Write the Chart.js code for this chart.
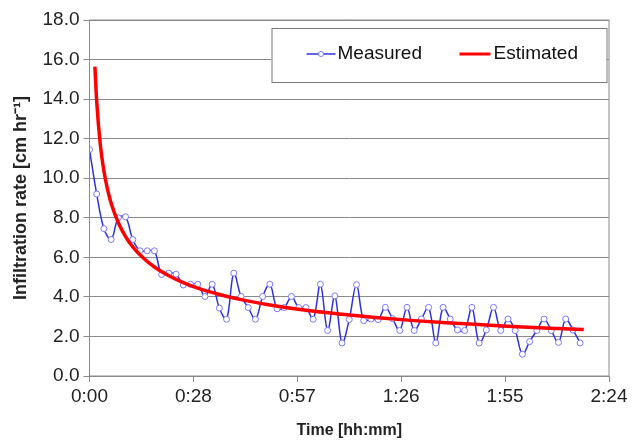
<!DOCTYPE html>
<html>
<head>
<meta charset="utf-8">
<script src="https://cdn.jsdelivr.net/npm/chart.js@4/dist/chart.umd.min.js"></script>
<style>
  html, body { margin: 0; padding: 0; background: #fff; }
  #wrap { width: 639px; height: 442px; }
</style>
</head>
<body>
<div id="wrap"><canvas id="infil"></canvas></div>
<script>
// measured infiltration rate, one reading every 2 minutes
const measuredMinutes = [0, 2, 4, 6, 8, 10, 12, 14, 16, 18, 20, 22, 24, 26, 28, 30, 32, 34, 36, 38,
  40, 42, 44, 46, 48, 50, 52, 54, 56, 58, 60, 62, 64, 66, 68, 70, 72, 74, 76, 78,
  80, 82, 84, 86, 88, 90, 92, 94, 96, 98, 100, 102, 104, 106, 108, 110, 112, 114, 116, 118,
  120, 122, 124, 126, 128, 130, 132, 134, 136]
const measuredRate = [11.45, 9.2, 7.45, 6.9, 8.0, 8.05, 6.9, 6.33, 6.33, 6.33, 5.13, 5.2, 5.15, 4.6, 4.64, 4.64, 4.02, 4.64, 3.43, 2.87,
  5.2, 4.02, 3.46, 2.87, 4.02, 4.64, 3.4, 3.46, 4.02, 3.46, 3.46, 2.87, 4.64, 2.3, 4.05, 1.67, 2.86, 4.62, 2.8, 2.88,
  2.85, 3.47, 2.9, 2.3, 3.47, 2.3, 2.88, 3.47, 1.67, 3.47, 2.88, 2.33, 2.3, 3.47, 1.67, 2.33, 3.47, 2.3, 2.88, 2.3,
  1.1, 1.74, 2.3, 2.88, 2.3, 1.7, 2.88, 2.33, 1.67]

// fitted curve
const estimatedMinutes = [1.5, 2, 3, 4, 5, 6, 8, 10, 12, 15, 18, 22, 26, 30, 36, 42, 50, 60, 70, 80, 90, 100, 110, 120, 130, 137]
const estimatedRate = [15.64, 13.87, 11.7, 10.37, 9.44, 8.74, 7.75, 7.05, 6.53, 5.95, 5.51, 5.07, 4.72, 4.44, 4.12, 3.86, 3.59, 3.32, 3.12, 2.95, 2.8, 2.68, 2.58, 2.48, 2.4, 2.35]

const xTickValues = [0, 28.8, 57.6, 86.4, 115.2, 144]
const xTickLabels = ['0:00', '0:28', '0:57', '1:26', '1:55', '2:24']

const gridGrey = '#8a8a8a'
const fontFam = '"Liberation Sans", Arial, sans-serif'

const toPts = (xs, ys) => xs.map((x, i) => ({ x: x, y: ys[i] }))

// box around plot + boxed legend like the excel original
const framePlugin = {
  id: 'frame',
  afterDraw(chart) {
    const ctx = chart.ctx
    const a = chart.chartArea
    ctx.save()
    ctx.strokeStyle = gridGrey
    ctx.lineWidth = 1
    ctx.strokeRect(a.left, a.top, a.right - a.left, a.bottom - a.top)

    const bx = a.left + 182, by = a.top + 8, bw = 335, bh = 54
    ctx.fillStyle = '#fff'
    ctx.fillRect(bx, by, bw, bh)
    ctx.strokeStyle = '#7a7a7a'
    ctx.strokeRect(bx + 0.5, by + 0.5, bw, bh)

    const ds = chart.data.datasets
    const cy = by + 26
    ctx.font = '19px ' + fontFam
    ctx.textBaseline = 'middle'
    ctx.fillStyle = '#111'

    // Measured
    ctx.strokeStyle = ds[0].borderColor
    ctx.lineWidth = 1.5
    ctx.beginPath(); ctx.moveTo(bx + 35, cy); ctx.lineTo(bx + 64, cy); ctx.stroke()
    ctx.beginPath(); ctx.arc(bx + 49.5, cy, 2.5, 0, Math.PI * 2)
    ctx.fillStyle = '#fff'; ctx.fill()
    ctx.strokeStyle = ds[0].pointBorderColor; ctx.lineWidth = 1; ctx.stroke()
    ctx.fillStyle = '#111'
    ctx.fillText(ds[0].label, bx + 66, cy)

    // Estimated
    ctx.strokeStyle = ds[1].borderColor
    ctx.lineWidth = 3
    ctx.beginPath(); ctx.moveTo(bx + 188, cy); ctx.lineTo(bx + 219, cy); ctx.stroke()
    ctx.fillText(ds[1].label, bx + 222, cy)
    ctx.restore()
  }
}

new Chart(document.getElementById('infil'), {
  type: 'line',
  data: {
    datasets: [
      {
        label: 'Measured',
        data: toPts(measuredMinutes, measuredRate),
        borderColor: '#3030dd',
        borderWidth: 1.5,
        pointRadius: 3,
        pointBackgroundColor: '#fff',
        pointBorderColor: '#7878ff',
        pointBorderWidth: 1,
        tension: 0.35,
        order: 2
      },
      {
        label: 'Estimated',
        data: toPts(estimatedMinutes, estimatedRate),
        borderColor: '#ff0000',
        borderWidth: 3.5,
        pointRadius: 0,
        cubicInterpolationMode: 'monotone',
        order: 1
      }
    ]
  },
  options: {
    responsive: true,
    maintainAspectRatio: false,
    animation: false,
    layout: { padding: { left: 0, right: 30, top: 20, bottom: 0 } },
    plugins: {
      legend: { display: false },
      tooltip: { enabled: false }
    },
    scales: {
      x: {
        type: 'linear',
        min: 0,
        max: 144,
        afterBuildTicks: s => { s.ticks = xTickValues.map(v => ({ value: v })) },
        afterFit: s => { s.height = 66 },
        grid: { drawOnChartArea: false, color: gridGrey, tickLength: 6 },
        border: { color: gridGrey },
        ticks: {
          autoSkip: false,
          maxRotation: 0,
          padding: 3,
          color: '#222',
          font: { family: fontFam, size: 19 },
          callback: (v, i) => xTickLabels[i]
        },
        title: {
          display: true,
          text: 'Time [hh:mm]',
          color: '#222',
          font: { family: fontFam, size: 16, weight: 'bold' },
          padding: { top: 2, bottom: 2 }
        }
      },
      y: {
        min: 0,
        max: 18,
        afterFit: s => { s.width = 89.5 },
        grid: { color: gridGrey, tickLength: 6 },
        border: { color: gridGrey },
        ticks: {
          stepSize: 2,
          padding: 4,
          color: '#222',
          font: { family: fontFam, size: 19 },
          callback: v => v.toFixed(1)
        },
        title: {
          display: true,
          text: 'Infiltration rate [cm hr⁻¹]',
          color: '#222',
          font: { family: fontFam, size: 18, weight: 'bold' },
          padding: { top: 10, bottom: 0 }
        }
      }
    }
  },
  plugins: [framePlugin]
})
</script>
</body>
</html>
